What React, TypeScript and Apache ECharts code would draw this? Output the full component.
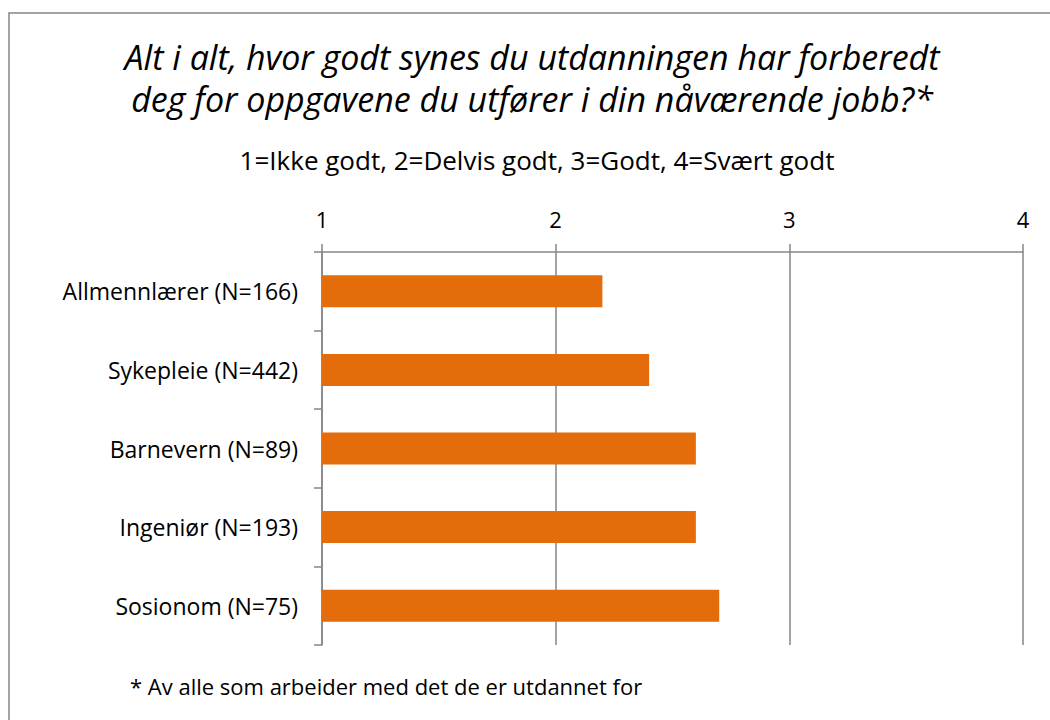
import React, { useEffect, useRef } from "react";
import * as echarts from "echarts";

const categories = [
  "Allmennlærer (N=166)",
  "Sykepleie (N=442)",
  "Barnevern (N=89)",
  "Ingeniør (N=193)",
  "Sosionom (N=75)",
];
const values = [2.2, 2.4, 2.6, 2.6, 2.7];
const titleLines = [
  "Alt i alt, hvor godt synes du utdanningen har forberedt",
  "deg for oppgavene du utfører i din nåværende jobb?*",
];
const subtitle = "1=Ikke godt, 2=Delvis godt, 3=Godt, 4=Svært godt";
const footnote = "* Av alle som arbeider med det de er utdannet for";

const FONT = "'Open Sans', 'Noto Sans', sans-serif";

export default function App() {
  const ref = useRef<HTMLDivElement>(null);
  useEffect(() => {
    document.body.style.margin = "0";
    const chart = echarts.init(ref.current!, null, { renderer: "svg" });
    chart.setOption({
      animation: false,
      backgroundColor: "#ffffff",
      grid: { left: 322, top: 252, width: 701, height: 393, containLabel: false },
      xAxis: {
        type: "value",
        position: "top",
        min: 1,
        max: 4,
        interval: 1,
        axisLine: { show: true, lineStyle: { color: "#868686", width: 1.5 } },
        axisTick: { show: true, length: 8, lineStyle: { color: "#868686", width: 1.5 } },
        splitLine: { show: true, lineStyle: { color: "#868686", width: 1.5 } },
        axisLabel: { color: "#000", fontSize: 22, fontFamily: FONT, margin: 22 },
      },
      yAxis: {
        type: "category",
        data: categories,
        inverse: true,
        axisLine: { show: true, lineStyle: { color: "#868686", width: 1.5 } },
        axisTick: { show: true, length: 8, lineStyle: { color: "#868686", width: 1.5 } },
        axisLabel: { color: "#000", fontSize: 23, fontFamily: FONT, margin: 24 },
      },
      series: [
        {
          type: "bar",
          data: values,
          barWidth: 32,
          itemStyle: { color: "#E46C0A" },
          silent: true,
        },
      ],
      graphic: [
        {
          type: "rect",
          shape: { x: 9, y: 13, width: 1100, height: 800 },
          style: { fill: "none", stroke: "#868686", lineWidth: 1.5 },
          silent: true,
        },
        {
          type: "text",
          x: 532,
          y: 57,
          style: {
            text: titleLines[0],
            font: `italic 34px ${FONT}`,
            fill: "#000",
            align: "center",
            verticalAlign: "middle",
          },
        },
        {
          type: "text",
          x: 532,
          y: 99,
          style: {
            text: titleLines[1],
            font: `italic 34px ${FONT}`,
            fill: "#000",
            align: "center",
            verticalAlign: "middle",
          },
        },
        {
          type: "text",
          x: 537,
          y: 160,
          style: {
            text: subtitle,
            font: `26px ${FONT}`,
            fill: "#000",
            align: "center",
            verticalAlign: "middle",
          },
        },
        {
          type: "text",
          x: 130,
          y: 686,
          style: {
            text: footnote,
            font: `22px ${FONT}`,
            fill: "#000",
            align: "left",
            verticalAlign: "middle",
          },
        },
      ],
    });
    return () => chart.dispose();
  }, []);
  return <div ref={ref} style={{ width: 1050, height: 720 }} />;
}
